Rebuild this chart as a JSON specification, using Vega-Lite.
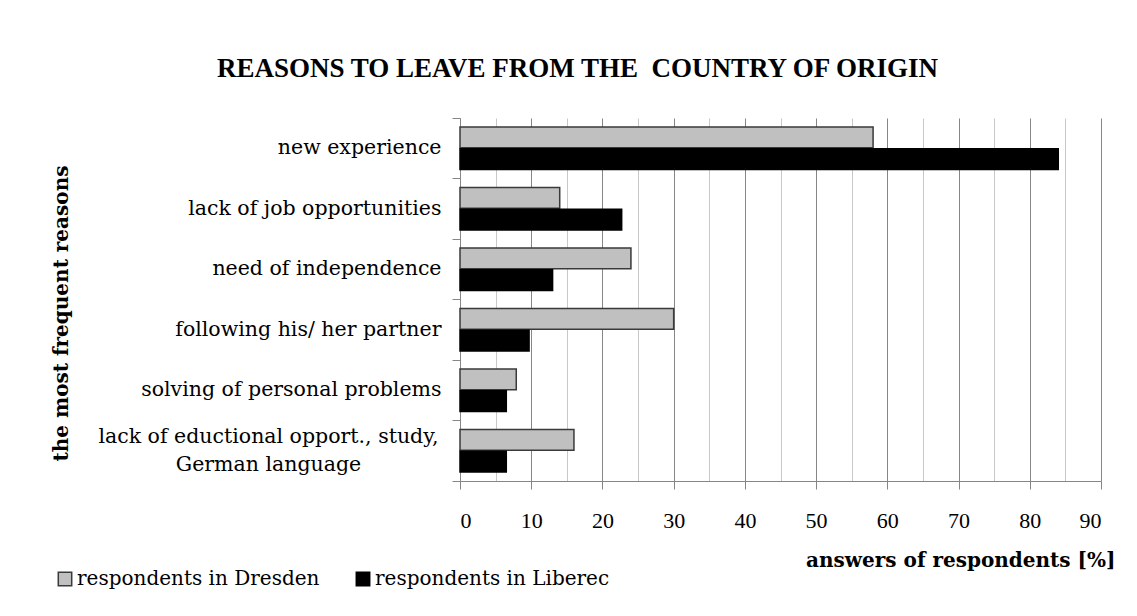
{
  "$schema": "https://vega.github.io/schema/vega-lite/v6.json",
  "autosize": "none",
  "width": 641,
  "height": 363,
  "padding": {"left": 460, "top": 118, "right": 36, "bottom": 135},
  "background": "white",
  "config": {
    "view": {"stroke": null},
    "font": "Liberation Serif"
  },
  "title": {
    "text": "REASONS TO LEAVE FROM THE\u00a0 COUNTRY OF ORIGIN",
    "font": "Liberation Serif",
    "fontSize": 27,
    "fontWeight": "bold",
    "color": "black",
    "anchor": "middle",
    "dx": -203,
    "offset": 25
  },
  "data": {
    "values": [
      {"reason": "new experience", "group": "respondents in Dresden", "value": 58},
      {"reason": "new experience", "group": "respondents in Liberec", "value": 84},
      {"reason": "lack of job opportunities", "group": "respondents in Dresden", "value": 14},
      {"reason": "lack of job opportunities", "group": "respondents in Liberec", "value": 22.7},
      {"reason": "need of independence", "group": "respondents in Dresden", "value": 24},
      {"reason": "need of independence", "group": "respondents in Liberec", "value": 13},
      {"reason": "following his/ her partner", "group": "respondents in Dresden", "value": 30},
      {"reason": "following his/ her partner", "group": "respondents in Liberec", "value": 9.7},
      {"reason": "solving of personal problems", "group": "respondents in Dresden", "value": 7.9},
      {"reason": "solving of personal problems", "group": "respondents in Liberec", "value": 6.5},
      {"reason": "lack of eductional opport., study, German language", "group": "respondents in Dresden", "value": 16},
      {"reason": "lack of eductional opport., study, German language", "group": "respondents in Liberec", "value": 6.5}
    ]
  },
  "mark": {"type": "bar", "strokeWidth": 1.5},
  "encoding": {
    "y": {
      "field": "reason",
      "type": "nominal",
      "sort": null,
      "scale": {"paddingInner": 0, "paddingOuter": 0},
      "axis": {
        "title": "the most frequent reasons",
        "titleFont": "DejaVu Serif",
        "titleFontSize": 20,
        "titleFontWeight": "bold",
        "titleColor": "black",
        "titleAngle": -90,
        "titleX": -393,
        "titleY": 195,
        "titleAlign": "center",
        "titleBaseline": "alphabetic",
        "bandPosition": 1,
        "tickExtra": true,
        "tickSize": 8,
        "tickColor": "#868686",
        "domainColor": "#868686",
        "labelFont": "DejaVu Serif",
        "labelFontSize": 20.5,
        "labelColor": "black",
        "labelPadding": {"condition": {"test": "datum.value == 'lack of eductional opport., study, German language'", "value": 184}, "value": 11},
        "labelAlign": {"condition": {"test": "datum.value == 'lack of eductional opport., study, German language'", "value": "center"}, "value": "right"},
        "labelOffset": {"condition": {"test": "datum.value == 'lack of eductional opport., study, German language'", "value": -14}, "value": 0},
        "labelLimit": 500,
        "labelLineHeight": 28,
        "labelExpr": "datum.value == 'lack of eductional opport., study, German language' ? ['lack of eductional opport., study,', 'German language'] : datum.value"
      }
    },
    "yOffset": {
      "field": "group",
      "type": "nominal",
      "scale": {"paddingInner": 0.05, "paddingOuter": 0.42}
    },
    "x": {
      "field": "value",
      "type": "quantitative",
      "scale": {"domain": [0, 90], "nice": false},
      "axis": {
        "title": "answers of respondents [%]",
        "titleFont": "DejaVu Serif",
        "titleFontSize": 20,
        "titleFontWeight": "bold",
        "titleColor": "black",
        "titleX": 655,
        "titleY": 85,
        "titleAlign": "right",
        "titleBaseline": "alphabetic",
        "values": [0, 5, 10, 15, 20, 25, 30, 35, 40, 45, 50, 55, 60, 65, 70, 75, 80, 85, 90],
        "labelExpr": "datum.value % 10 === 0 ? datum.label : ''",
        "labelFont": "Liberation Serif",
        "labelFontSize": 22,
        "labelColor": "black",
        "labelPadding": 21,
        "labelBaseline": "top",
        "tickSize": 8,
        "tickColor": "#868686",
        "tickOpacity": {"condition": {"test": "datum.value % 10 === 0", "value": 1}, "value": 0},
        "domainColor": "#868686",
        "grid": true,
        "gridColor": {"condition": {"test": "datum.value % 10 === 0", "value": "#868686"}, "value": "#c8c8c8"},
        "gridWidth": 1
      }
    },
    "color": {
      "field": "group",
      "type": "nominal",
      "scale": {"domain": ["respondents in Dresden", "respondents in Liberec"], "range": ["#c0c0c0", "#000000"]},
      "legend": {
        "title": null,
        "orient": "none",
        "direction": "horizontal",
        "legendX": -405,
        "legendY": 451,
        "symbolType": "square",
        "symbolSize": 180,
        "symbolStrokeWidth": 1.5,
        "labelFont": "DejaVu Serif",
        "labelFontSize": 20,
        "labelColor": "black",
        "labelOffset": 2,
        "columnPadding": 33,
        "labelLimit": 400
      }
    },
    "stroke": {
      "field": "group",
      "type": "nominal",
      "scale": {"domain": ["respondents in Dresden", "respondents in Liberec"], "range": ["#3a3a3a", "#000000"]},
      "legend": null
    }
  }
}
